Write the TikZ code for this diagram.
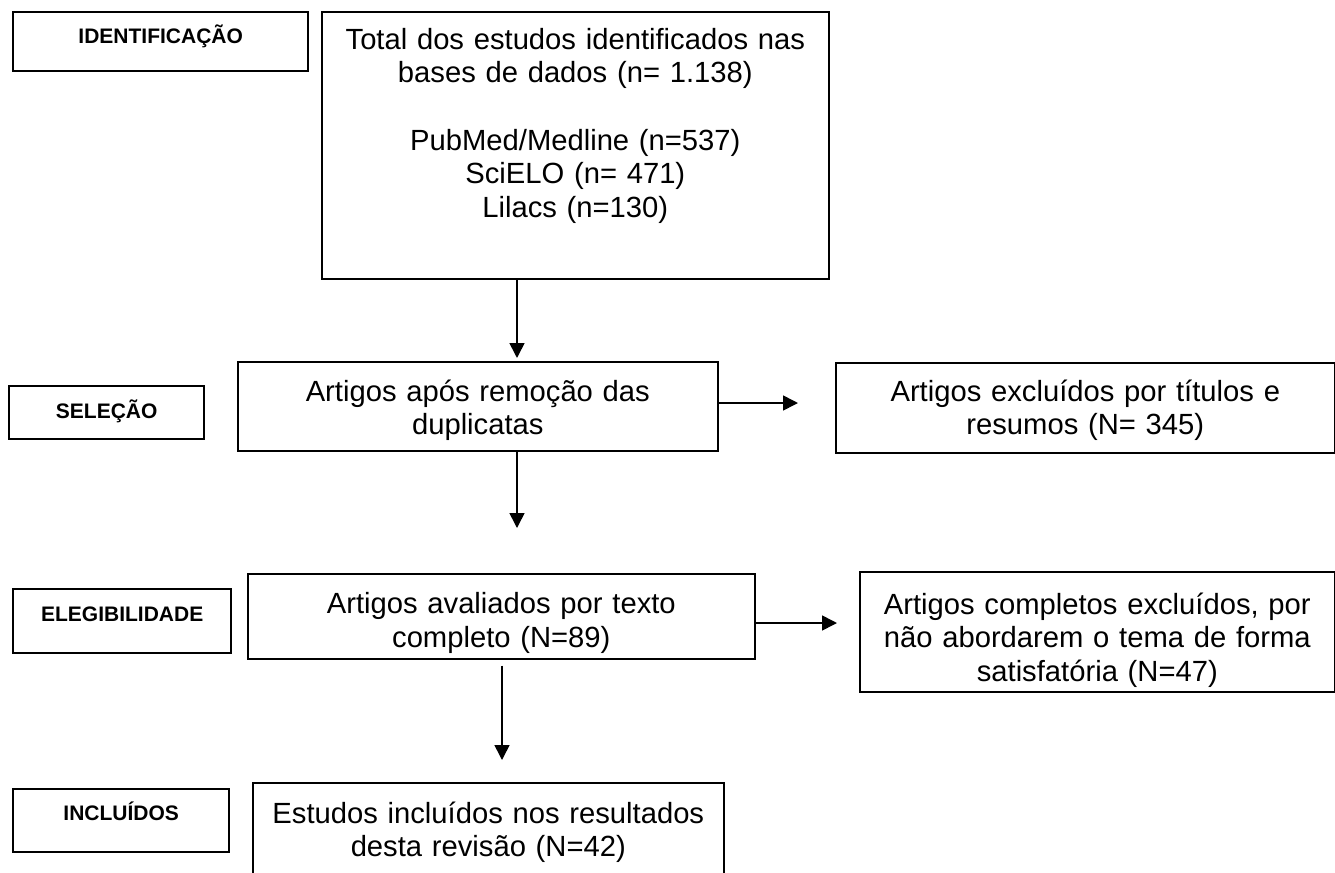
\documentclass[tikz,border=0pt]{standalone}
\usepackage{fontspec}
\setmainfont{Liberation Sans}
\usetikzlibrary{arrows.meta, positioning}

\begin{document}
\begin{tikzpicture}[
    x=0.5pt, y=-0.5pt,
    label_box/.style={draw, line width=1.2pt, inner sep=0pt, anchor=north west,
        font=\fontsize{10.5pt}{12pt}\selectfont\bfseries},
    main_box/.style={draw, line width=0.8pt, inner sep=0pt, anchor=north west,
        align=center, font=\fontsize{14.6pt}{16.8pt}\selectfont},
    flow_arrow/.style={-{Triangle[length=7.5pt, width=7.5pt]}, line width=0.8pt}
]
    \useasboundingbox (0,0) rectangle (1335,873);

    % Stage labels
    \node[label_box, minimum width=147.5pt, text height=15.75pt, text depth=13.75pt] (ident_label) at (12,11) {IDENTIFICAÇÃO};
    \node[label_box, minimum width=97.5pt, text height=16.25pt, text depth=10.25pt] (sel_label) at (8,385) {SELEÇÃO};
    \node[label_box, minimum width=109pt, text height=16.25pt, text depth=15.75pt] (eleg_label) at (12,588) {ELEGIBILIDADE};
    \node[label_box, minimum width=108pt, text height=15.75pt, text depth=15.75pt] (incl_label) at (12,788) {INCLUÍDOS};

    % Flow boxes
    \node[main_box, text width=253.5pt, text height=18.7pt, text depth=114.8pt] (total_box) at (321,11)
        {Total dos estudos identificados nas\\ bases de dados (n= 1.138)\\[16.8pt] PubMed/Medline (n=537)\\ SciELO (n= 471)\\ Lilacs (n=130)};
    \node[main_box, text width=240pt, text height=19.75pt, text depth=24.75pt] (sel_box) at (237,361)
        {Artigos após remoção das\\ duplicatas};
    \node[main_box, text width=249.5pt, text height=19.25pt, text depth=25.75pt] (excl_title) at (835,362)
        {Artigos excluídos por títulos e\\ resumos (N= 345)};
    \node[main_box, text width=253.5pt, text height=20pt, text depth=22.5pt] (eleg_box) at (247,573)
        {Artigos avaliados por texto\\ completo (N=89)};
    \node[main_box, text width=237.5pt, text height=21.25pt, text depth=38.75pt] (excl_full) at (859,571)
        {Artigos completos excluídos, por\\ não abordarem o tema de forma\\ satisfatória (N=47)};
    \node[main_box, text width=235.5pt, text height=20.25pt, text depth=50pt] (incl_box) at (252,782)
        {Estudos incluídos nos resultados\\ desta revisão (N=42)};

    % Arrows
    \coordinate (sel_tip) at (517,358);
    \coordinate (excl_title_tip) at (798,403);
    \coordinate (eleg_tip) at (517,528);
    \coordinate (excl_full_tip) at (837,623);
    \coordinate (incl_tip) at (502,760);

    \draw[flow_arrow] (total_box.south -| sel_tip) -- (sel_tip);
    \draw[flow_arrow] (sel_box.east |- excl_title_tip) -- (excl_title_tip);
    \draw[flow_arrow] (sel_box.south -| eleg_tip) -- (eleg_tip);
    \draw[flow_arrow] (eleg_box.east |- excl_full_tip) -- (excl_full_tip);
    \draw[flow_arrow] ([yshift=-3pt]eleg_box.south -| incl_tip) -- (incl_tip);

\end{tikzpicture}
\end{document}
